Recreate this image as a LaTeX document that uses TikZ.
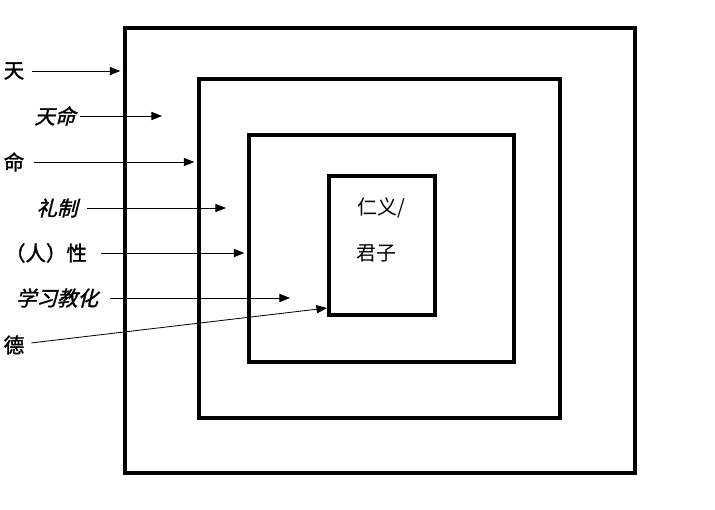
\documentclass[tikz,border=0pt]{standalone}
\usepackage{fontspec}
\usepackage{tikz}
\usetikzlibrary{fit,arrows.meta}
\newfontfamily\cjk{Noto Sans CJK SC}
\newfontfamily\cjkbf[FakeBold=1.6]{Noto Sans CJK SC}
\newfontfamily\cjkit[FakeSlant=0.25,FakeBold=1.6]{Noto Sans CJK SC}
\begin{document}
\begin{tikzpicture}[x=0.03cm, y=-0.03cm,
  ring/.style={draw, line width=4pt, inner sep=0pt},
  lab/.style={font=\cjkbf\fontsize{17.5}{20}\selectfont, inner sep=2pt},
  labit/.style={font=\cjkit\fontsize{17.5}{20}\selectfont, inner sep=2pt},
  arr/.style={-{Triangle[length=9pt,width=7pt]}, line width=0.7pt}]
\useasboundingbox (0,0) rectangle (715,510);
\node[ring, fit={(125,28) (635,473)}]  (ring1) {};
\node[ring, fit={(199,79) (560,418)}]  (ring2) {};
\node[ring, fit={(249,135) (514,362)}] (ring3) {};
\node[ring, fit={(329,176) (435,315)}] (ring4) {};
\node[font=\cjk\fontsize{17}{20}\selectfont] (renyi) at (381,208) {仁义/};
\node[font=\cjk\fontsize{17}{20}\selectfont] (junzi) at (376,253) {君子};
\node[lab]   (tian)     at (14,71)  {天};
\node[labit] (tianming) at (55,116) {天命};
\node[lab]   (ming)     at (14,162) {命};
\node[labit] (lizhi)    at (57,208) {礼制};
\node[lab]   (xing)     at (46,253) {（人）性};
\node[labit] (xuexi)    at (57,298) {学习教化};
\node[lab]   (de)       at (14,345) {德};
\coordinate (tianming-end) at (162,116);
\coordinate (lizhi-end)    at (226,208);
\coordinate (xuexi-end)    at (290,298);
\coordinate (de-end)       at (327,308);
\draw[arr, shorten <=4pt, shorten >=2pt] (tian) -- (tian -| ring1.west);
\draw[arr, shorten <=2pt] (tianming) -- (tianming-end);
\draw[arr, shorten <=6pt, shorten >=2pt] (ming) -- (ming -| ring2.west);
\draw[arr, shorten <=6pt] (lizhi) -- (lizhi-end);
\draw[arr, shorten <=10pt, shorten >=2pt] (xing) -- (xing -| ring3.west);
\draw[arr, shorten <=8pt] (xuexi) -- (xuexi-end);
\draw[arr, shorten <=4pt] (de) -- (de-end);
\end{tikzpicture}
\end{document}
